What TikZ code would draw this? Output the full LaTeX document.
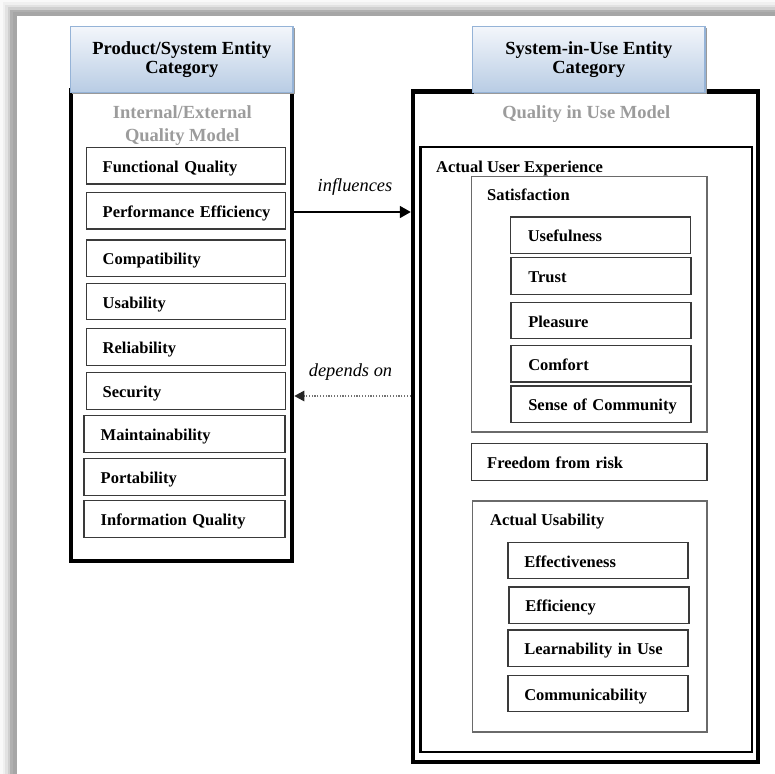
\documentclass[tikz,border=0pt]{standalone}
\usepackage{fontspec}
\setmainfont{Liberation Serif}
\usetikzlibrary{arrows.meta,shadows}
\definecolor{hdrtop}{HTML}{F3F6FB}
\definecolor{hdrbot}{HTML}{B8CCE4}
\definecolor{hdrline}{HTML}{95B3D7}
\definecolor{titlegray}{HTML}{9C9C9C}
\definecolor{boxline}{HTML}{3A3A3A}
\definecolor{grpline}{HTML}{6A6A6A}

\begin{document}
\begin{tikzpicture}[x=1pt,y=-1pt,
  header/.style={draw=hdrline, line width=1.2pt, top color=hdrtop, bottom color=hdrbot,
    minimum height=66pt, align=center, inner sep=0pt,
    font=\fontsize{18.5}{19.4}\selectfont\bfseries,
    general shadow={shadow xshift=1.6pt, shadow yshift=-1.6pt, fill=black!40}},
  modeltitle/.style={text=titlegray, align=center, inner sep=0pt,
    font=\fontsize{18.5}{23.4}\selectfont\bfseries},
  leftframe/.style={draw=black, line width=4pt, inner sep=0pt},
  rightframe/.style={draw=black, line width=4.5pt, inner sep=0pt},
  uxframe/.style={draw=black, line width=2.2pt, inner sep=0pt},
  group/.style={draw=grpline, line width=1.2pt, inner sep=0pt},
  grouplabel/.style={inner sep=0pt, font=\fontsize{16.5}{18}\selectfont\bfseries},
  item/.style={draw=boxline, line width=1.3pt, minimum height=36.5pt,
    inner sep=0pt, text height=13pt, text depth=0pt,
    align=left, font=\fontsize{16.5}{18}\selectfont\bfseries},
  inset/.style={execute at begin node={\hspace*{#1}}},
  influence/.style={-{Triangle[length=11pt,width=12pt]}, line width=1.8pt},
  depend/.style={-{Triangle[length=10pt,width=10.5pt,color=black!85]},
    draw=black!55, line width=1.3pt, dash pattern=on 1.2pt off 1.6pt},
  arrowlabel/.style={inner sep=0pt, font=\fontsize{18.4}{20}\selectfont\itshape}
]
\useasboundingbox (0,0) rectangle (775,773);

% soft grey border along the top and left edges
\foreach \d/\p in {0/2.4, 2.5/6, 5/11.5, 7.5/19, 10/31, 12.5/35}
  \fill[black!\p] (\d,\d) rectangle (780,780);
\fill[white] (16.5,16.5) rectangle (780,780);

% outer frames of the two models
\node[leftframe, minimum width=221.1pt, minimum height=471pt] (lbox) at (181.75,325.5) {};
\node[rightframe, minimum width=345.2pt, minimum height=670.3pt] (rbox) at (585.6,426.85) {};

% entity category headers
\node[header, minimum width=222.3pt] (lhead) at (181.85,59.5) {Product/System Entity\\Category};
\node[header, minimum width=232.3pt] (rhead) at (588.85,59.5) {System-in-Use Entity\\Category};

% model titles
\node[modeltitle, anchor=base] (ltitle) at (182.3,141.7) {Internal/External\\Quality Model};
\node[modeltitle, anchor=base] (rtitle) at (586.3,118.3) {Quality in Use Model};

% internal/external quality characteristics
\begin{scope}[every node/.append style={item, text width=199pt, inset=16pt}]
  \node (fq) at (186.2,165.7) {Functional Quality};
  \node (pe) at (186.2,210.7) {Performance Efficiency};
  \node (co) at (186.2,258.3) {Compatibility};
  \node (us) at (186.2,301.5) {Usability};
  \node (re) at (186.2,347)   {Reliability};
  \node (se) at (186.2,391)   {Security};
\end{scope}
\begin{scope}[every node/.append style={item, text width=201pt, inset=16.7pt}]
  \node (ma) at (184.5,434) {Maintainability};
  \node (po) at (184.5,477) {Portability};
  \node (iq) at (184.5,519) {Information Quality};
\end{scope}

% quality in use: actual user experience
\node[uxframe, minimum width=331.2pt, minimum height=604.5pt] (aue) at (586.1,449.55) {};
\node[grouplabel, anchor=base west] (auelabel) at (436,172.3) {Actual User Experience};

\node[group, minimum width=235.3pt, minimum height=255.3pt] (sat) at (589.35,304.35) {};
\node[grouplabel, anchor=base west] (satlabel) at (487,200.7) {Satisfaction};
\begin{scope}[every node/.append style={item, text width=180pt, inset=17.3pt}]
  \node (uf) at (600.5,235.3) {Usefulness};
  \node (tr) at (601,276)     {Trust};
  \node (pl) at (601,320.5)   {Pleasure};
  \node (cf) at (601,363.7)   {Comfort};
  \node (sc) at (601,404.3)   {Sense of Community};
\end{scope}

\node[item, text width=235.3pt, inset=15.5pt] (fr) at (589.35,462) {Freedom from risk};

\node[group, minimum width=234.3pt, minimum height=231pt] (au) at (589.85,616.5) {};
\node[grouplabel, anchor=base west] (aulabel) at (490,525) {Actual Usability};
\begin{scope}[every node/.append style={item, text width=180pt, inset=16.3pt}]
  \node (ef) at (598,560.5)   {Effectiveness};
  \node (ec) at (599,605.2)   {Efficiency};
  \node (lu) at (598,648.3)   {Learnability in Use};
  \node (cm) at (598,693.5)   {Communicability};
\end{scope}

% relations between the two models
\coordinate (inflrow) at (0,212);
\coordinate (deprow) at (0,396);
\draw[influence] (lbox.east |- inflrow) -- (rbox.west |- inflrow);
\draw[depend] (rbox.west |- deprow) -- (lbox.east |- deprow);
\node[arrowlabel, anchor=base] (infllabel) at (355,191.7) {influences};
\node[arrowlabel, anchor=base] (deplabel) at (350.5,376) {depends on};
\end{tikzpicture}
\end{document}
